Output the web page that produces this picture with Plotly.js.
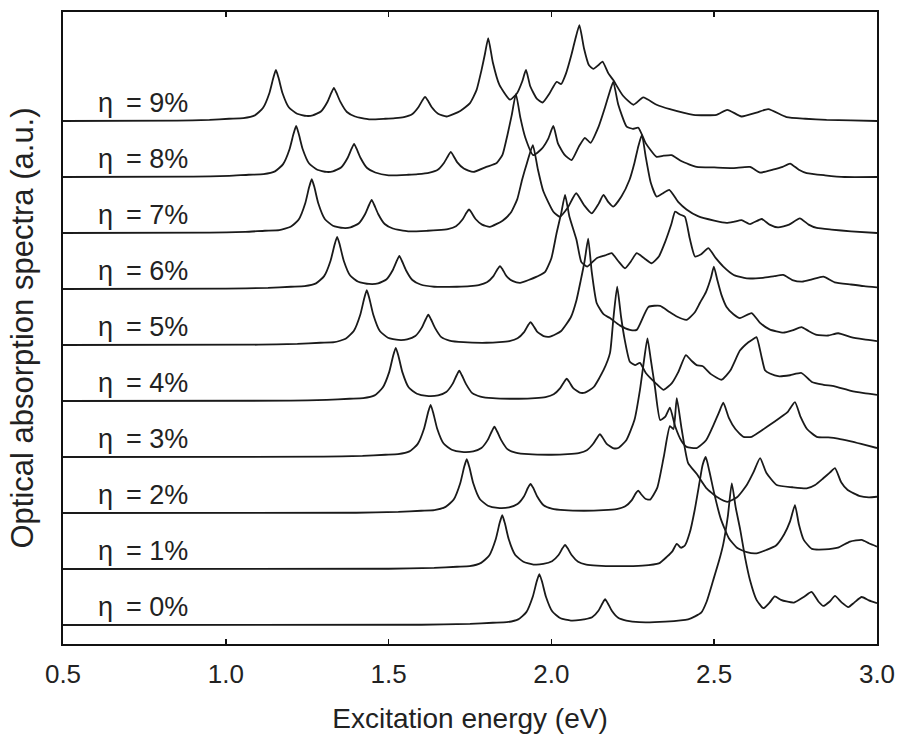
<!DOCTYPE html>
<html>
<head>
<meta charset="utf-8">
<script src="https://cdn.plot.ly/plotly-3.0.1.min.js"></script>
<style>body{margin:0;background:#fff}#chart{width:904px;height:743px}</style>
</head>
<body>
<div id="chart"></div>
<script>
// Excitation energy (eV) and relative absorption for each concentration eta
const E0 = [0.5, 1.60, 1.75, 1.82, 1.863, 1.898, 1.923, 1.943, 1.955, 1.963, 1.971, 1.983, 2.003, 2.028, 2.06, 2.09, 2.10, 2.125, 2.145, 2.157, 2.165, 2.173, 2.185, 2.205, 2.23, 2.27, 2.35, 2.42, 2.46, 2.477, 2.497, 2.515, 2.528, 2.542, 2.554, 2.566, 2.58, 2.595, 2.61, 2.63, 2.651, 2.67, 2.686, 2.705, 2.722, 2.745, 2.775, 2.799, 2.82, 2.835, 2.855, 2.871, 2.892, 2.912, 2.93, 2.953, 2.975, 3.0];
const A0 = [0, 0.005, 0.02, 0.04, 0.05, 0.10, 0.23, 0.51, 0.78, 0.91, 0.78, 0.51, 0.24, 0.12, 0.08, 0.09, 0.10, 0.14, 0.26, 0.39, 0.46, 0.39, 0.26, 0.13, 0.08, 0.05, 0.06, 0.10, 0.22, 0.42, 0.80, 1.15, 1.45, 1.95, 2.53, 2.10, 1.70, 1.20, 0.80, 0.45, 0.30, 0.40, 0.51, 0.45, 0.42, 0.40, 0.50, 0.59, 0.42, 0.34, 0.42, 0.52, 0.40, 0.32, 0.40, 0.50, 0.44, 0.39];

const E1 = [0.5, 1.50, 1.64, 1.71, 1.749, 1.784, 1.809, 1.829, 1.841, 1.849, 1.857, 1.869, 1.889, 1.914, 1.945, 1.975, 2.002, 2.022, 2.034, 2.042, 2.050, 2.062, 2.082, 2.107, 2.14, 2.20, 2.28, 2.33, 2.355, 2.372, 2.385, 2.398, 2.41, 2.425, 2.44, 2.455, 2.464, 2.474, 2.485, 2.50, 2.52, 2.545, 2.57, 2.60, 2.63, 2.66, 2.69, 2.715, 2.733, 2.748, 2.76, 2.775, 2.80, 2.84, 2.88, 2.917, 2.953, 2.975, 3.0];
const A1 = [0, 0.005, 0.02, 0.04, 0.05, 0.11, 0.24, 0.53, 0.82, 0.96, 0.82, 0.53, 0.25, 0.13, 0.08, 0.09, 0.14, 0.25, 0.37, 0.43, 0.37, 0.25, 0.13, 0.08, 0.06, 0.05, 0.06, 0.10, 0.22, 0.32, 0.45, 0.38, 0.42, 0.65, 1.05, 1.55, 1.85, 2.00, 1.75, 1.35, 0.90, 0.55, 0.38, 0.30, 0.28, 0.34, 0.42, 0.62, 0.85, 1.14, 0.80, 0.52, 0.36, 0.35, 0.38, 0.49, 0.52, 0.46, 0.40];

const E2 = [0.5, 1.40, 1.53, 1.60, 1.64, 1.675, 1.70, 1.72, 1.732, 1.740, 1.748, 1.76, 1.78, 1.805, 1.835, 1.87, 1.896, 1.916, 1.928, 1.936, 1.944, 1.956, 1.976, 2.001, 2.04, 2.10, 2.16, 2.20, 2.227, 2.247, 2.259, 2.267, 2.275, 2.29, 2.303, 2.325, 2.345, 2.364, 2.375, 2.385, 2.40, 2.42, 2.446, 2.475, 2.51, 2.54, 2.57, 2.60, 2.62, 2.641, 2.66, 2.692, 2.74, 2.784, 2.81, 2.835, 2.855, 2.871, 2.89, 2.91, 2.948, 2.975, 3.0];
const A2 = [0, 0.005, 0.02, 0.04, 0.05, 0.11, 0.24, 0.53, 0.82, 0.96, 0.82, 0.53, 0.25, 0.13, 0.09, 0.10, 0.16, 0.30, 0.45, 0.52, 0.45, 0.30, 0.14, 0.08, 0.05, 0.04, 0.05, 0.07, 0.12, 0.23, 0.35, 0.40, 0.34, 0.25, 0.24, 0.45, 1.00, 1.55, 1.50, 2.05, 1.50, 0.89, 0.70, 0.45, 0.28, 0.20, 0.28, 0.50, 0.72, 0.98, 0.72, 0.50, 0.46, 0.44, 0.50, 0.62, 0.72, 0.80, 0.55, 0.41, 0.30, 0.28, 0.29];

const E3 = [0.5, 1.30, 1.42, 1.49, 1.529, 1.564, 1.589, 1.609, 1.621, 1.629, 1.637, 1.649, 1.669, 1.694, 1.725, 1.76, 1.785, 1.805, 1.817, 1.825, 1.833, 1.845, 1.865, 1.89, 1.93, 2.00, 2.05, 2.084, 2.109, 2.129, 2.141, 2.149, 2.157, 2.169, 2.189, 2.205, 2.23, 2.255, 2.272, 2.285, 2.295, 2.305, 2.318, 2.334, 2.35, 2.364, 2.38, 2.40, 2.415, 2.446, 2.475, 2.50, 2.515, 2.528, 2.545, 2.565, 2.59, 2.615, 2.64, 2.67, 2.702, 2.725, 2.748, 2.765, 2.785, 2.815, 2.85, 2.88, 2.92, 2.96, 3.0];
const A3 = [0, 0.005, 0.02, 0.04, 0.05, 0.10, 0.23, 0.51, 0.79, 0.93, 0.79, 0.51, 0.24, 0.13, 0.09, 0.10, 0.16, 0.31, 0.46, 0.54, 0.46, 0.31, 0.14, 0.08, 0.05, 0.04, 0.05, 0.07, 0.12, 0.24, 0.35, 0.41, 0.35, 0.24, 0.16, 0.16, 0.30, 0.66, 1.20, 1.75, 2.12, 1.75, 1.25, 0.66, 0.72, 0.88, 0.55, 0.28, 0.18, 0.16, 0.30, 0.60, 0.80, 0.97, 0.70, 0.50, 0.36, 0.36, 0.45, 0.57, 0.70, 0.80, 0.98, 0.72, 0.50, 0.36, 0.35, 0.33, 0.28, 0.22, 0.16];

const E4 = [0.5, 1.20, 1.31, 1.38, 1.422, 1.457, 1.482, 1.502, 1.514, 1.522, 1.530, 1.542, 1.562, 1.587, 1.617, 1.652, 1.677, 1.697, 1.709, 1.717, 1.725, 1.737, 1.757, 1.782, 1.82, 1.90, 1.95, 1.982, 2.007, 2.027, 2.039, 2.047, 2.055, 2.067, 2.087, 2.103, 2.13, 2.16, 2.18, 2.19, 2.202, 2.214, 2.225, 2.241, 2.257, 2.272, 2.29, 2.32, 2.344, 2.37, 2.39, 2.413, 2.43, 2.446, 2.465, 2.49, 2.523, 2.55, 2.579, 2.605, 2.618, 2.630, 2.645, 2.656, 2.671, 2.70, 2.733, 2.768, 2.80, 2.836, 2.87, 2.92, 2.96, 3.0];
const A4 = [0, 0.005, 0.02, 0.04, 0.05, 0.10, 0.24, 0.52, 0.81, 0.95, 0.81, 0.52, 0.24, 0.13, 0.09, 0.10, 0.16, 0.31, 0.46, 0.54, 0.46, 0.31, 0.14, 0.08, 0.05, 0.04, 0.05, 0.07, 0.12, 0.23, 0.34, 0.40, 0.34, 0.23, 0.15, 0.15, 0.25, 0.55, 0.86, 1.45, 2.04, 1.50, 1.10, 0.70, 0.64, 0.68, 0.50, 0.32, 0.20, 0.32, 0.52, 0.82, 0.72, 0.64, 0.62, 0.48, 0.38, 0.55, 0.90, 1.05, 1.10, 1.14, 0.80, 0.55, 0.49, 0.44, 0.46, 0.50, 0.34, 0.29, 0.26, 0.18, 0.14, 0.11];

const E5 = [0.5, 1.10, 1.22, 1.29, 1.333, 1.368, 1.393, 1.413, 1.425, 1.433, 1.441, 1.453, 1.473, 1.498, 1.53, 1.557, 1.582, 1.602, 1.614, 1.622, 1.630, 1.642, 1.662, 1.687, 1.73, 1.80, 1.84, 1.871, 1.896, 1.916, 1.928, 1.936, 1.944, 1.956, 1.976, 1.996, 2.03, 2.06, 2.077, 2.09, 2.102, 2.113, 2.124, 2.139, 2.16, 2.18, 2.21, 2.241, 2.262, 2.298, 2.334, 2.36, 2.385, 2.415, 2.44, 2.456, 2.475, 2.49, 2.499, 2.51, 2.522, 2.538, 2.559, 2.579, 2.615, 2.64, 2.67, 2.712, 2.74, 2.768, 2.79, 2.815, 2.85, 2.881, 2.92, 2.96, 3.0];
const A5 = [0, 0.005, 0.02, 0.04, 0.05, 0.11, 0.25, 0.54, 0.83, 0.98, 0.83, 0.54, 0.25, 0.13, 0.09, 0.10, 0.16, 0.31, 0.46, 0.54, 0.46, 0.31, 0.14, 0.08, 0.05, 0.04, 0.05, 0.07, 0.12, 0.23, 0.35, 0.41, 0.35, 0.24, 0.16, 0.15, 0.25, 0.50, 0.80, 1.15, 1.50, 1.90, 1.30, 0.75, 0.55, 0.48, 0.35, 0.27, 0.27, 0.68, 0.70, 0.60, 0.51, 0.45, 0.58, 0.75, 0.95, 1.20, 1.40, 1.15, 0.90, 0.68, 0.55, 0.48, 0.57, 0.40, 0.28, 0.22, 0.26, 0.32, 0.25, 0.18, 0.17, 0.21, 0.14, 0.10, 0.07];

const E6 = [0.5, 1.00, 1.13, 1.20, 1.242, 1.277, 1.302, 1.322, 1.334, 1.342, 1.350, 1.362, 1.382, 1.407, 1.44, 1.468, 1.493, 1.513, 1.525, 1.533, 1.541, 1.553, 1.573, 1.598, 1.64, 1.71, 1.75, 1.777, 1.802, 1.822, 1.834, 1.842, 1.850, 1.862, 1.882, 1.904, 1.93, 1.955, 1.98, 2.0, 2.016, 2.03, 2.042, 2.055, 2.077, 2.092, 2.11, 2.139, 2.165, 2.185, 2.205, 2.226, 2.245, 2.262, 2.285, 2.308, 2.33, 2.35, 2.368, 2.38, 2.395, 2.41, 2.425, 2.441, 2.46, 2.482, 2.505, 2.528, 2.56, 2.60, 2.65, 2.685, 2.712, 2.74, 2.77, 2.80, 2.835, 2.87, 2.92, 2.96, 3.0];
const A6 = [0, 0.005, 0.02, 0.04, 0.05, 0.10, 0.23, 0.51, 0.79, 0.93, 0.79, 0.51, 0.24, 0.13, 0.09, 0.10, 0.17, 0.34, 0.50, 0.59, 0.50, 0.34, 0.16, 0.08, 0.04, 0.04, 0.05, 0.07, 0.12, 0.23, 0.35, 0.41, 0.35, 0.23, 0.14, 0.11, 0.16, 0.22, 0.30, 0.55, 1.00, 1.35, 1.68, 1.30, 0.88, 0.48, 0.40, 0.55, 0.60, 0.64, 0.50, 0.37, 0.50, 0.64, 0.55, 0.46, 0.58, 0.85, 1.15, 1.38, 1.33, 1.29, 0.90, 0.58, 0.62, 0.73, 0.55, 0.40, 0.25, 0.19, 0.20, 0.23, 0.25, 0.16, 0.13, 0.17, 0.22, 0.12, 0.08, 0.05, 0.03];

const E7 = [0.5, 0.95, 1.06, 1.12, 1.164, 1.199, 1.224, 1.244, 1.256, 1.264, 1.272, 1.284, 1.304, 1.329, 1.36, 1.383, 1.408, 1.428, 1.440, 1.448, 1.456, 1.468, 1.488, 1.513, 1.56, 1.62, 1.65, 1.682, 1.707, 1.727, 1.739, 1.747, 1.755, 1.767, 1.787, 1.811, 1.85, 1.875, 1.895, 1.91, 1.925, 1.943, 1.958, 1.975, 2.006, 2.026, 2.05, 2.076, 2.10, 2.124, 2.145, 2.16, 2.175, 2.19, 2.215, 2.24, 2.255, 2.267, 2.278, 2.29, 2.305, 2.323, 2.34, 2.362, 2.39, 2.415, 2.45, 2.50, 2.538, 2.56, 2.584, 2.61, 2.646, 2.67, 2.696, 2.73, 2.763, 2.79, 2.815, 2.86, 2.92, 3.0];
const A7 = [0, 0.005, 0.02, 0.04, 0.05, 0.11, 0.24, 0.53, 0.82, 0.96, 0.82, 0.53, 0.25, 0.13, 0.09, 0.10, 0.17, 0.34, 0.50, 0.59, 0.50, 0.34, 0.16, 0.08, 0.03, 0.04, 0.05, 0.07, 0.12, 0.24, 0.36, 0.42, 0.36, 0.25, 0.15, 0.11, 0.22, 0.36, 0.60, 0.95, 1.25, 1.57, 1.15, 0.75, 0.38, 0.29, 0.45, 0.71, 0.50, 0.35, 0.52, 0.68, 0.55, 0.47, 0.65, 0.95, 1.25, 1.55, 1.75, 1.35, 0.90, 0.65, 0.70, 0.77, 0.55, 0.42, 0.30, 0.22, 0.18, 0.20, 0.23, 0.16, 0.25, 0.15, 0.10, 0.15, 0.26, 0.15, 0.09, 0.06, 0.03, 0];

const E8 = [0.5, 0.90, 1.01, 1.07, 1.116, 1.151, 1.176, 1.196, 1.208, 1.216, 1.224, 1.236, 1.256, 1.281, 1.31, 1.329, 1.354, 1.374, 1.386, 1.394, 1.402, 1.414, 1.434, 1.459, 1.50, 1.56, 1.59, 1.626, 1.651, 1.671, 1.683, 1.691, 1.699, 1.711, 1.731, 1.760, 1.80, 1.832, 1.85, 1.865, 1.878, 1.891, 1.905, 1.92, 1.944, 1.97, 1.99, 2.006, 2.02, 2.04, 2.062, 2.085, 2.103, 2.12, 2.145, 2.165, 2.178, 2.19, 2.205, 2.231, 2.25, 2.267, 2.29, 2.323, 2.345, 2.369, 2.40, 2.446, 2.50, 2.558, 2.61, 2.641, 2.68, 2.71, 2.733, 2.76, 2.784, 2.84, 2.90, 3.0];
const A8 = [0, 0.005, 0.02, 0.04, 0.05, 0.10, 0.23, 0.50, 0.77, 0.91, 0.77, 0.50, 0.24, 0.13, 0.09, 0.10, 0.17, 0.34, 0.50, 0.59, 0.50, 0.34, 0.16, 0.08, 0.03, 0.04, 0.05, 0.08, 0.13, 0.26, 0.38, 0.45, 0.38, 0.26, 0.15, 0.09, 0.18, 0.25, 0.40, 0.75, 1.10, 1.48, 1.05, 0.70, 0.39, 0.50, 0.68, 0.91, 0.60, 0.40, 0.30, 0.55, 0.70, 0.61, 0.90, 1.25, 1.50, 1.70, 1.30, 0.90, 0.86, 0.88, 0.60, 0.36, 0.38, 0.39, 0.28, 0.18, 0.17, 0.16, 0.18, 0.08, 0.13, 0.18, 0.24, 0.13, 0.07, 0.03, 0, 0];

const E9 = [0.5, 0.85, 0.95, 1.01, 1.054, 1.089, 1.114, 1.134, 1.146, 1.154, 1.162, 1.174, 1.194, 1.219, 1.248, 1.267, 1.292, 1.312, 1.324, 1.332, 1.340, 1.352, 1.372, 1.397, 1.44, 1.49, 1.52, 1.547, 1.572, 1.592, 1.604, 1.612, 1.620, 1.632, 1.652, 1.678, 1.72, 1.750, 1.77, 1.785, 1.796, 1.806, 1.82, 1.84, 1.873, 1.895, 1.91, 1.922, 1.935, 1.955, 1.973, 1.995, 2.016, 2.03, 2.045, 2.06, 2.073, 2.086, 2.10, 2.115, 2.129, 2.145, 2.157, 2.175, 2.19, 2.22, 2.252, 2.282, 2.323, 2.364, 2.436, 2.507, 2.54, 2.584, 2.63, 2.666, 2.722, 2.78, 2.845, 2.92, 3.0];
const A9 = [0, 0.005, 0.02, 0.04, 0.05, 0.10, 0.23, 0.50, 0.77, 0.91, 0.77, 0.50, 0.24, 0.13, 0.09, 0.10, 0.17, 0.34, 0.50, 0.59, 0.50, 0.34, 0.16, 0.08, 0.03, 0.04, 0.05, 0.07, 0.12, 0.25, 0.37, 0.43, 0.37, 0.25, 0.13, 0.08, 0.18, 0.32, 0.55, 0.90, 1.20, 1.48, 1.05, 0.65, 0.38, 0.50, 0.70, 0.91, 0.62, 0.40, 0.33, 0.50, 0.70, 0.66, 0.85, 1.15, 1.45, 1.71, 1.30, 1.00, 0.93, 1.00, 1.06, 0.85, 0.73, 0.45, 0.29, 0.42, 0.29, 0.21, 0.11, 0.11, 0.20, 0.08, 0.15, 0.21, 0.07, 0.04, 0.02, 0.01, 0];

const energies = [E0, E1, E2, E3, E4, E5, E6, E7, E8, E9];
const spectra = [A0, A1, A2, A3, A4, A5, A6, A7, A8, A9];
const labels = ["η\u2009 = 0%", "η\u2009 = 1%", "η\u2009 = 2%", "η\u2009 = 3%", "η\u2009 = 4%", "η\u2009 = 5%", "η\u2009 = 6%", "η\u2009 = 7%", "η\u2009 = 8%", "η\u2009 = 9%"];
const xTicks = [0.5, 1.0, 1.5, 2.0, 2.5, 3.0];
const xTickText = ["0.5", "1.0", "1.5", "2.0", "2.5", "3.0"];

const STEP = 1;          // vertical offset between spectra
const FONT = "Liberation Sans, Arial, Helvetica, sans-serif";

const traces = spectra.map((a, i) => ({
  type: "scatter", mode: "lines",
  x: energies[i],
  y: a.map(v => v + i * STEP),
  line: {color: "#1a1a1a", width: 1.8, shape: "spline", smoothing: 0.5},
  hoverinfo: "skip", showlegend: false
}));

const annotations = labels.map((t, i) => ({
  x: 0.60, y: i * STEP + 0.32, xref: "x", yref: "y",
  text: t, showarrow: false, xanchor: "left", yanchor: "middle",
  font: {family: FONT, size: 27, color: "#222"}
}));

const layout = {
  width: 904, height: 743,
  margin: {l: 63, r: 27, t: 12, b: 99},
  paper_bgcolor: "#fff", plot_bgcolor: "#fff",
  showlegend: false,
  xaxis: {
    range: [0.5, 3.0], tickvals: xTicks, ticktext: xTickText,
    ticks: "inside", ticklen: 5, tickwidth: 1.5, tickcolor: "#111",
    showline: true, mirror: "ticks", linewidth: 2, linecolor: "#111",
    showgrid: false, zeroline: false,
    tickfont: {family: FONT, size: 26, color: "#222"},
    ticklabelstandoff: 6,
    title: {text: "Excitation energy (eV)", font: {family: FONT, size: 28, color: "#222"}, standoff: 20},
    automargin: false
  },
  yaxis: {
    range: [-0.339, 10.946],
    showticklabels: false, ticks: "",
    showline: true, mirror: true, linewidth: 2, linecolor: "#111",
    showgrid: false, zeroline: false,
    title: {text: "Optical absorption spectra (a.u.)", font: {family: FONT, size: 31, color: "#222"}, standoff: 18},
    automargin: false
  },
  annotations: annotations
};

Plotly.newPlot("chart", traces, layout, {displayModeBar: false, staticPlot: true});
</script>
</body>
</html>
